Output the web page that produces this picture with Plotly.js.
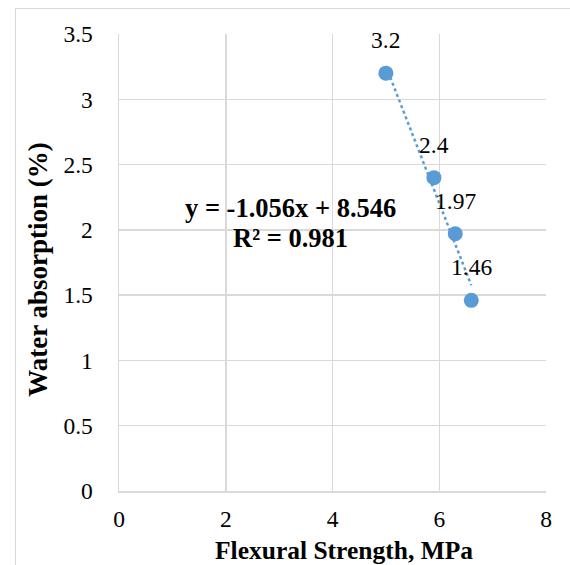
<!DOCTYPE html>
<html><head><meta charset="utf-8">
<script src="https://cdn.plot.ly/plotly-3.0.1.min.js"></script>
<style>
html,body{margin:0;padding:0;background:#fff;overflow:hidden;}
#frame{position:absolute;left:15px;top:8px;width:600px;height:600px;border:1px solid #d9d9d9;box-sizing:border-box;}
#chart{position:absolute;left:0;top:0;width:570px;height:565px;}
</style></head>
<body>
<div id="frame"></div>
<div id="chart"></div>
<script>
const flexural = [5.0, 5.9, 6.3, 6.6];
const waterAbs = [3.2, 2.4, 1.97, 1.46];
const labels = ["3.2", "2.4", "1.97", "1.46"];
const eqLine1 = "y = -1.056x + 8.546";
const eqLine2 = "R² = 0.981";
const xTitle = "Flexural Strength, MPa";
const yTitle = "Water absorption (%)";
const xTicks = [0, 2, 4, 6, 8];
const yTicks = [0, 0.5, 1, 1.5, 2, 2.5, 3, 3.5];

// least-squares trendline from the data
const n = flexural.length;
const mx = flexural.reduce((a,b)=>a+b,0)/n;
const my = waterAbs.reduce((a,b)=>a+b,0)/n;
let sxy=0, sxx=0;
for (let i=0;i<n;i++){ sxy+=(flexural[i]-mx)*(waterAbs[i]-my); sxx+=(flexural[i]-mx)**2; }
const slope = sxy/sxx, icpt = my - slope*mx;
const tx = [Math.min(...flexural), Math.max(...flexural)];
const ty = tx.map(v => icpt + slope*v);

const font = "'Liberation Serif', serif";
const traces = [
  {x: tx, y: ty, mode: 'lines', line: {color: '#5b9bd5', width: 2.5, dash: 'dot'}, hoverinfo: 'skip'},
  {x: flexural, y: waterAbs, mode: 'markers', marker: {color: '#5b9bd5', size: 15}}
];
const annotations = flexural.map((v,i)=>({
  x: v, y: waterAbs[i], xref: 'x', yref: 'y', text: labels[i], showarrow: false,
  yshift: 33, font: {family: font, size: 23.5, color: '#000'}
}));
annotations.push({
  x: 3.22, y: 2.17, xref: 'x', yref: 'y', text: '<b>' + eqLine1 + '</b>', showarrow: false,
  font: {family: font, size: 26.5, color: '#000'}
});
annotations.push({
  x: 3.22, y: 1.935, xref: 'x', yref: 'y', text: '<b>' + eqLine2 + '</b>', showarrow: false,
  font: {family: font, size: 26.5, color: '#000'}
});
annotations.push({
  x: 0.527, y: -0.131, xref: 'paper', yref: 'paper', xanchor: 'center', yanchor: 'middle',
  text: '<b>' + xTitle + '</b>', showarrow: false,
  font: {family: font, size: 25.5, color: '#000'}
});
annotations.push({
  x: -0.19, y: 0.486, xref: 'paper', yref: 'paper', xanchor: 'center', yanchor: 'middle',
  text: '<b>' + yTitle + '</b>', showarrow: false, textangle: -90,
  font: {family: font, size: 27, color: '#000'}
});

const layout = {
  width: 570, height: 565,
  margin: {l: 119, r: 24, t: 34, b: 74},
  paper_bgcolor: 'rgba(0,0,0,0)', plot_bgcolor: '#fff',
  showlegend: false,
  font: {family: font, size: 23.5, color: '#000'},
  xaxis: {
    range: [0, 8], tickvals: xTicks, ticktext: xTicks.map(String),
    showgrid: true, gridcolor: '#d9d9d9', gridwidth: 1.5,
    zeroline: false, showline: true, linecolor: '#d9d9d9', linewidth: 1.5,
    ticks: 'outside', ticklen: 6, tickcolor: 'rgba(0,0,0,0)',
    tickfont: {family: font, size: 23.5, color: '#000'}
  },
  yaxis: {
    range: [0, 3.5], tickvals: yTicks, ticktext: yTicks.map(String),
    showgrid: true, gridcolor: '#d9d9d9', gridwidth: 1.5,
    zeroline: false, showline: true, linecolor: '#d9d9d9', linewidth: 1.5,
    ticks: 'outside', ticklen: 20, tickcolor: 'rgba(0,0,0,0)',
    tickfont: {family: font, size: 23.5, color: '#000'}
  },
  annotations: annotations
};
Plotly.newPlot('chart', traces, layout, {displayModeBar: false, staticPlot: true});
</script>
</body></html>
